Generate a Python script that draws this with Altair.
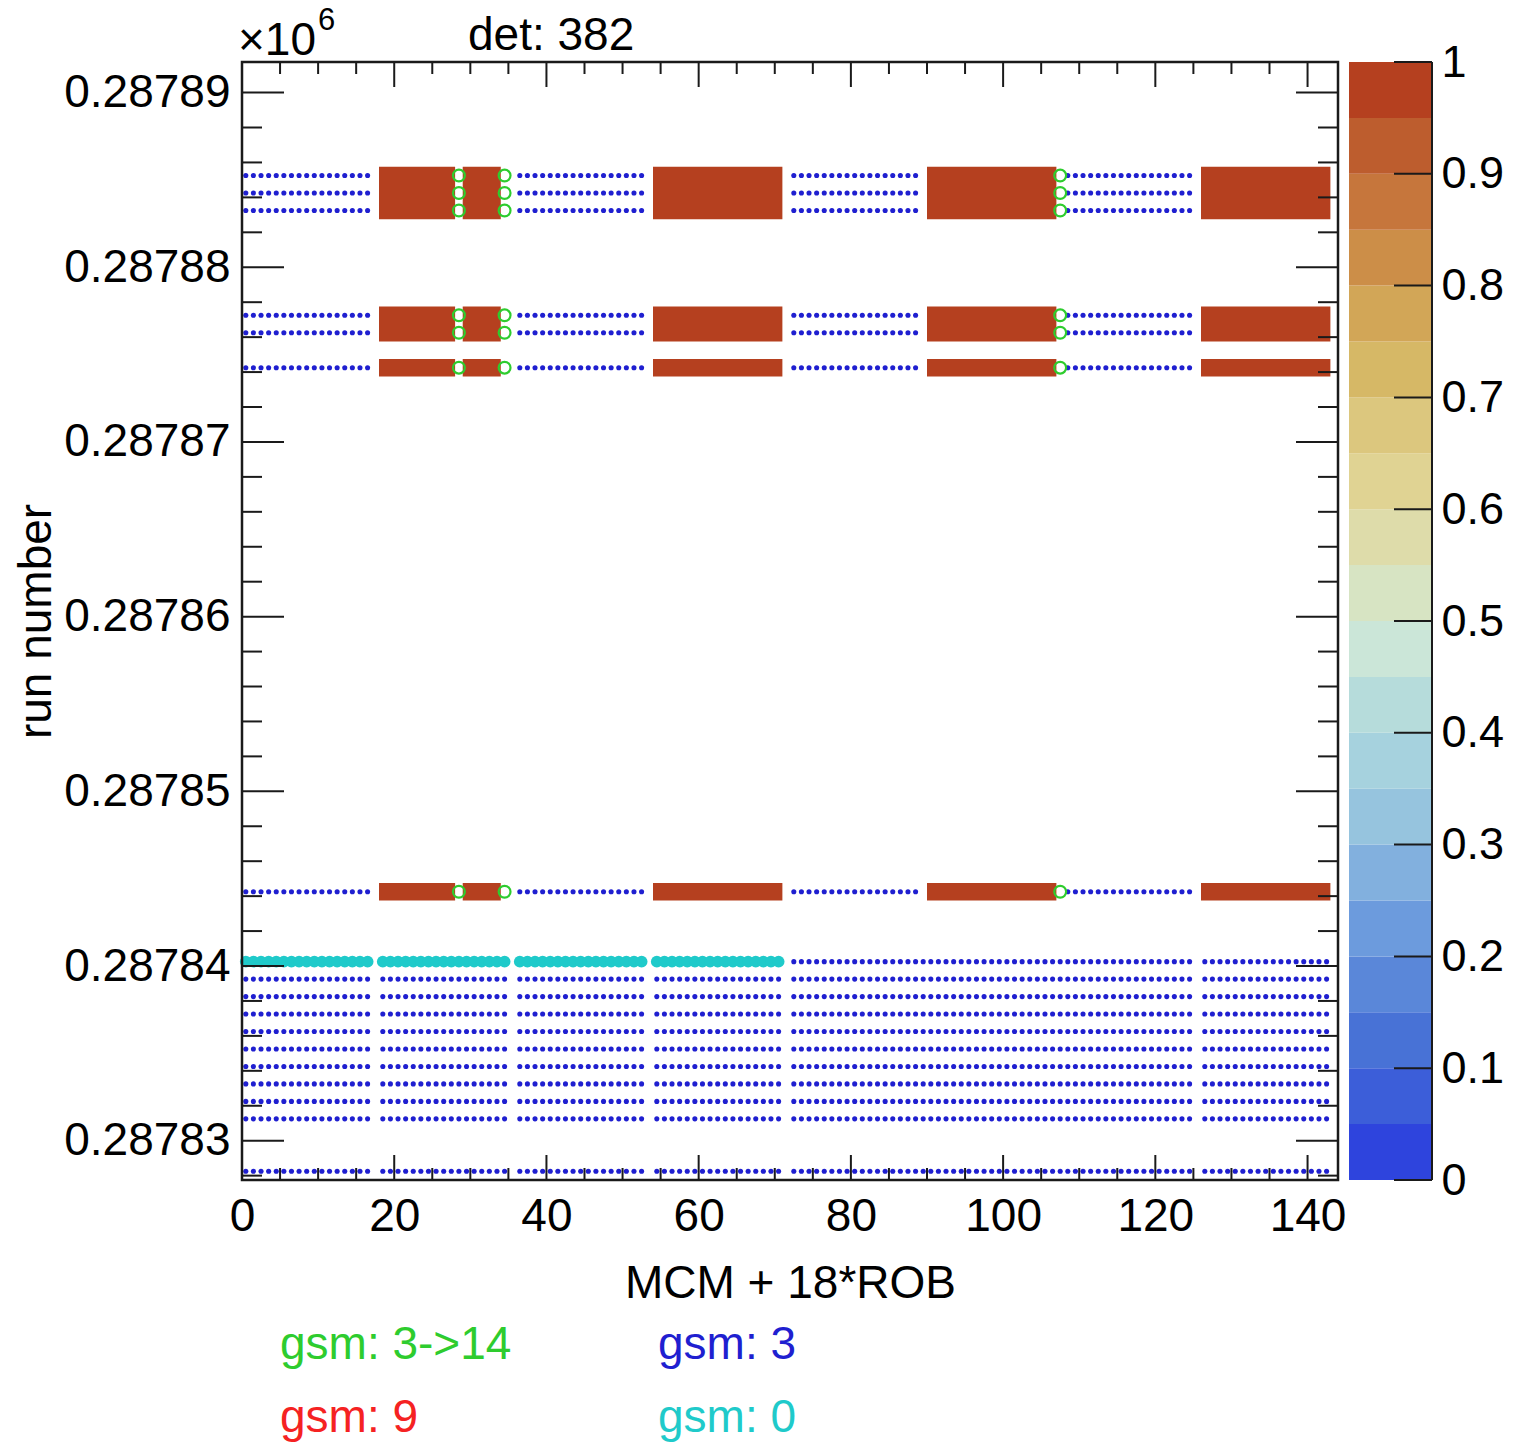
import altair as alt
import pandas as pd

FONT = "Liberation Sans"

# ---------------- data ----------------
x_domain = [0, 144]                      # MCM + 18*ROB
run_domain = [287827.75, 287891.75]      # run number axis range
bin_shift = 0.25                         # run bins span [run-0.25, run+0.75]

x_tick_labels = [0, 20, 40, 60, 80, 100, 120, 140]
x_minor_ticks = [v for v in range(0, 145, 5) if v % 20 != 0]
y_tick_labels = [287830, 287840, 287850, 287860, 287870, 287880, 287890]
y_minor_ticks = [v for v in range(287828, 287892, 2) if v % 10 != 0]
cbar_tick_labels = [0, 0.1, 0.2, 0.3, 0.4, 0.5, 0.6, 0.7, 0.8, 0.9, 1.0]

# colour palette of the z axis (bottom -> top)
palette = [
    "#2e44dd", "#3c5ed9", "#4872d6", "#5a87d9", "#6c9bdd",
    "#82b0de", "#96c4de", "#a6d2de", "#b6dcdb", "#cbe6d8",
    "#d7e4c3", "#dedcaa", "#e0d393", "#dcc77e", "#d6b866",
    "#d2a657", "#cc8e48", "#c6763c", "#bd5d2e", "#b5401f",
]

# rows
runs_gsm3 = [287828, 287831, 287832, 287833, 287834, 287835, 287836, 287837, 287838, 287839]
run_gsm0 = 287840
runs_heat = [287844, 287874, 287876, 287877, 287883, 287884, 287885]
heat_value = 1.0

# columns (MCM + 18*ROB)
cols_gsm3_full = [*range(0, 17), *range(18, 35), *range(36, 53), *range(54, 71),
                  *range(72, 125), *range(126, 143)]
cols_gsm0 = [*range(0, 17), *range(18, 35), *range(36, 53), *range(54, 71)]
cols_gsm3_in_gsm0_row = [*range(72, 125), *range(126, 143)]
cols_heat = [*range(18, 28), *range(29, 34), *range(54, 71), *range(90, 107), *range(126, 143)]
cols_gsm3_in_heat_rows = [*range(0, 17), *range(36, 53), *range(72, 89), *range(108, 125)]
cols_gsm3to14 = [28, 34, 107]

legend_labels = ["gsm: 3->14", "gsm: 3", "gsm: 9", "gsm: 0"]
legend_colors = ["#2ecc2e", "#1f1fd0", "#f52222", "#1fcaca"]
title_text = "det: 382"

C_GREEN, C_BLUE, C_RED, C_CYAN = legend_colors

# ---------------- tables ----------------
def spans(vals):
    vals = sorted(vals)
    out = []
    start = prev = vals[0]
    for v in vals[1:]:
        if v == prev + 1:
            prev = v
            continue
        out.append((start, prev))
        start = prev = v
    out.append((start, prev))
    return out

heat_rows = []
for c0, c1 in spans(cols_heat):
    for r0, r1 in spans(runs_heat):
        heat_rows.append({"x": c0, "x2": c1 + 1, "y": r0 - bin_shift,
                          "y2": r1 + 1 - bin_shift, "value": heat_value})
heat_df = pd.DataFrame(heat_rows)

def pts(cols, runs):
    return pd.DataFrame([{"x": c + 0.5, "y": r + 0.5 - bin_shift} for r in runs for c in cols])

blue_df = pd.concat([
    pts(cols_gsm3_full, runs_gsm3),
    pts(cols_gsm3_in_gsm0_row, [run_gsm0]),
    pts(cols_gsm3_in_heat_rows, runs_heat),
], ignore_index=True)
cyan_df = pts(cols_gsm0, [run_gsm0])
green_df = pts(cols_gsm3to14, runs_heat)

n = len(palette)
cbar_df = pd.DataFrame({
    "lo": [i / n for i in range(n)],
    "hi": [(i + 1) / n for i in range(n)],
    "value": [(i + 0.5) / n for i in range(n)],
})

# ---------------- chart ----------------
W, H = 1096, 1118
CB_X0, CB_X1 = 1107, 1190
TICK_C = "#1a1a1a"

xscale = alt.Scale(domain=x_domain, nice=False, zero=False)
yscale = alt.Scale(domain=run_domain, nice=False, zero=False)
cscale = alt.Scale(type="quantize", domain=[0, 1], range=palette, nice=False)
cyscale = alt.Scale(domain=[0, 1], nice=False, zero=False)

common_axis = dict(ticks=False, tickSize=0, domain=False, grid=False,
                   labelFont=FONT, titleFont=FONT, labelColor="black", titleColor="black",
                   labelFlush=False, labelOverlap=False, titleFontWeight="normal")

xaxis = alt.Axis(values=x_tick_labels, title="MCM + 18*ROB", orient="bottom",
                 labelFontSize=46, titleFontSize=46, labelPadding=14, titlePadding=22,
                 **common_axis)
yaxis = alt.Axis(values=y_tick_labels, title="run number", orient="left",
                 labelExpr="format(datum.value / 1e6, '.5f')",
                 labelFontSize=46, titleFontSize=46, labelPadding=12, titlePadding=3,
                 **common_axis)
caxis = alt.Axis(values=cbar_tick_labels, title=None, orient="right", offset=CB_X1 - W,
                 format=".1~f", labelFontSize=45, labelPadding=9, **common_axis)

X = alt.X("x:Q", scale=xscale, axis=xaxis)
Y = alt.Y("y:Q", scale=yscale, axis=yaxis)

heat = alt.Chart(heat_df).mark_rect().encode(
    x=X, x2="x2:Q", y=Y, y2="y2:Q",
    color=alt.Color("value:Q", scale=cscale, legend=None),
)
blue = alt.Chart(blue_df).mark_circle(size=26, opacity=1, color=C_BLUE).encode(x=X, y=Y)
cyan = alt.Chart(cyan_df).mark_circle(size=140, opacity=1, color=C_CYAN).encode(x=X, y=Y)
green = alt.Chart(green_df).mark_point(shape="circle", filled=False, size=140, strokeWidth=2.2,
                                       opacity=1, color=C_GREEN).encode(x=X, y=Y)

def xticks(vals, top, length):
    return alt.Chart(pd.DataFrame({"x": vals})).mark_rule(color=TICK_C, strokeWidth=2).encode(
        x=X,
        y=alt.value(0 if top else H - length),
        y2=alt.value(length if top else H),
    )

def yticks(vals, right, length):
    return alt.Chart(pd.DataFrame({"y": vals})).mark_rule(color=TICK_C, strokeWidth=2).encode(
        y=Y,
        x=alt.value(W - length if right else 0),
        x2=alt.value(W if right else length),
    )

tick_layers = [
    xticks(x_tick_labels, False, 25), xticks(x_minor_ticks, False, 12),
    xticks(x_tick_labels, True, 25), xticks(x_minor_ticks, True, 12),
    yticks(y_tick_labels, False, 42), yticks(y_minor_ticks, False, 20),
    yticks(y_tick_labels, True, 42), yticks(y_minor_ticks, True, 20),
]

frame = alt.Chart(pd.DataFrame({"v": [0]})).mark_rect(
    fillOpacity=0, stroke=TICK_C, strokeWidth=2.5).encode(
    x=alt.value(0), x2=alt.value(W), y=alt.value(0), y2=alt.value(H),
)

def label(text, x, y, size=46, color="black"):
    return alt.Chart(pd.DataFrame({"t": [text]})).mark_text(
        font=FONT, fontSize=size, color=color, align="left", baseline="alphabetic"
    ).encode(text="t:N", x=alt.value(x), y=alt.value(y))

texts = [
    label(title_text, 226, -12),
    label("\u00d710", -4, -7),
    label("6", 76, -32, size=31),
]
for i, (lab, col) in enumerate(zip(legend_labels, legend_colors)):
    texts.append(label(lab, 38 + (i % 2) * 378, 1297 + (i // 2) * 73, color=col))

main = alt.layer(heat, blue, cyan, green, *tick_layers, frame, *texts)

cbar_rect = alt.Chart(cbar_df).mark_rect().encode(
    x=alt.value(CB_X0), x2=alt.value(CB_X1),
    y=alt.Y("lo:Q", scale=cyscale, axis=caxis), y2="hi:Q",
    color=alt.Color("value:Q", scale=cscale, legend=None),
)
cbar_ticks = alt.Chart(pd.DataFrame({"v": cbar_tick_labels})).mark_rule(
    color=TICK_C, strokeWidth=2).encode(
    y=alt.Y("v:Q", scale=cyscale, axis=caxis),
    x=alt.value(CB_X1 - 38), x2=alt.value(CB_X1),
)
cbar_edge = alt.Chart(pd.DataFrame({"v": [0]})).mark_rule(color=TICK_C, strokeWidth=2).encode(
    x=alt.value(CB_X1), y=alt.value(0), y2=alt.value(H),
)
cbar = alt.layer(cbar_rect, cbar_ticks, cbar_edge)

chart = alt.layer(main, cbar).resolve_scale(y="independent").properties(
    width=W, height=H,
    autosize=alt.AutoSizeParams(type="none"),
    padding={"left": 242, "top": 62, "right": 176, "bottom": 263},
    background="white",
).configure_view(strokeWidth=0).configure(font=FONT)

chart.save("out.html", embed_options={"renderer": "svg", "actions": False})
